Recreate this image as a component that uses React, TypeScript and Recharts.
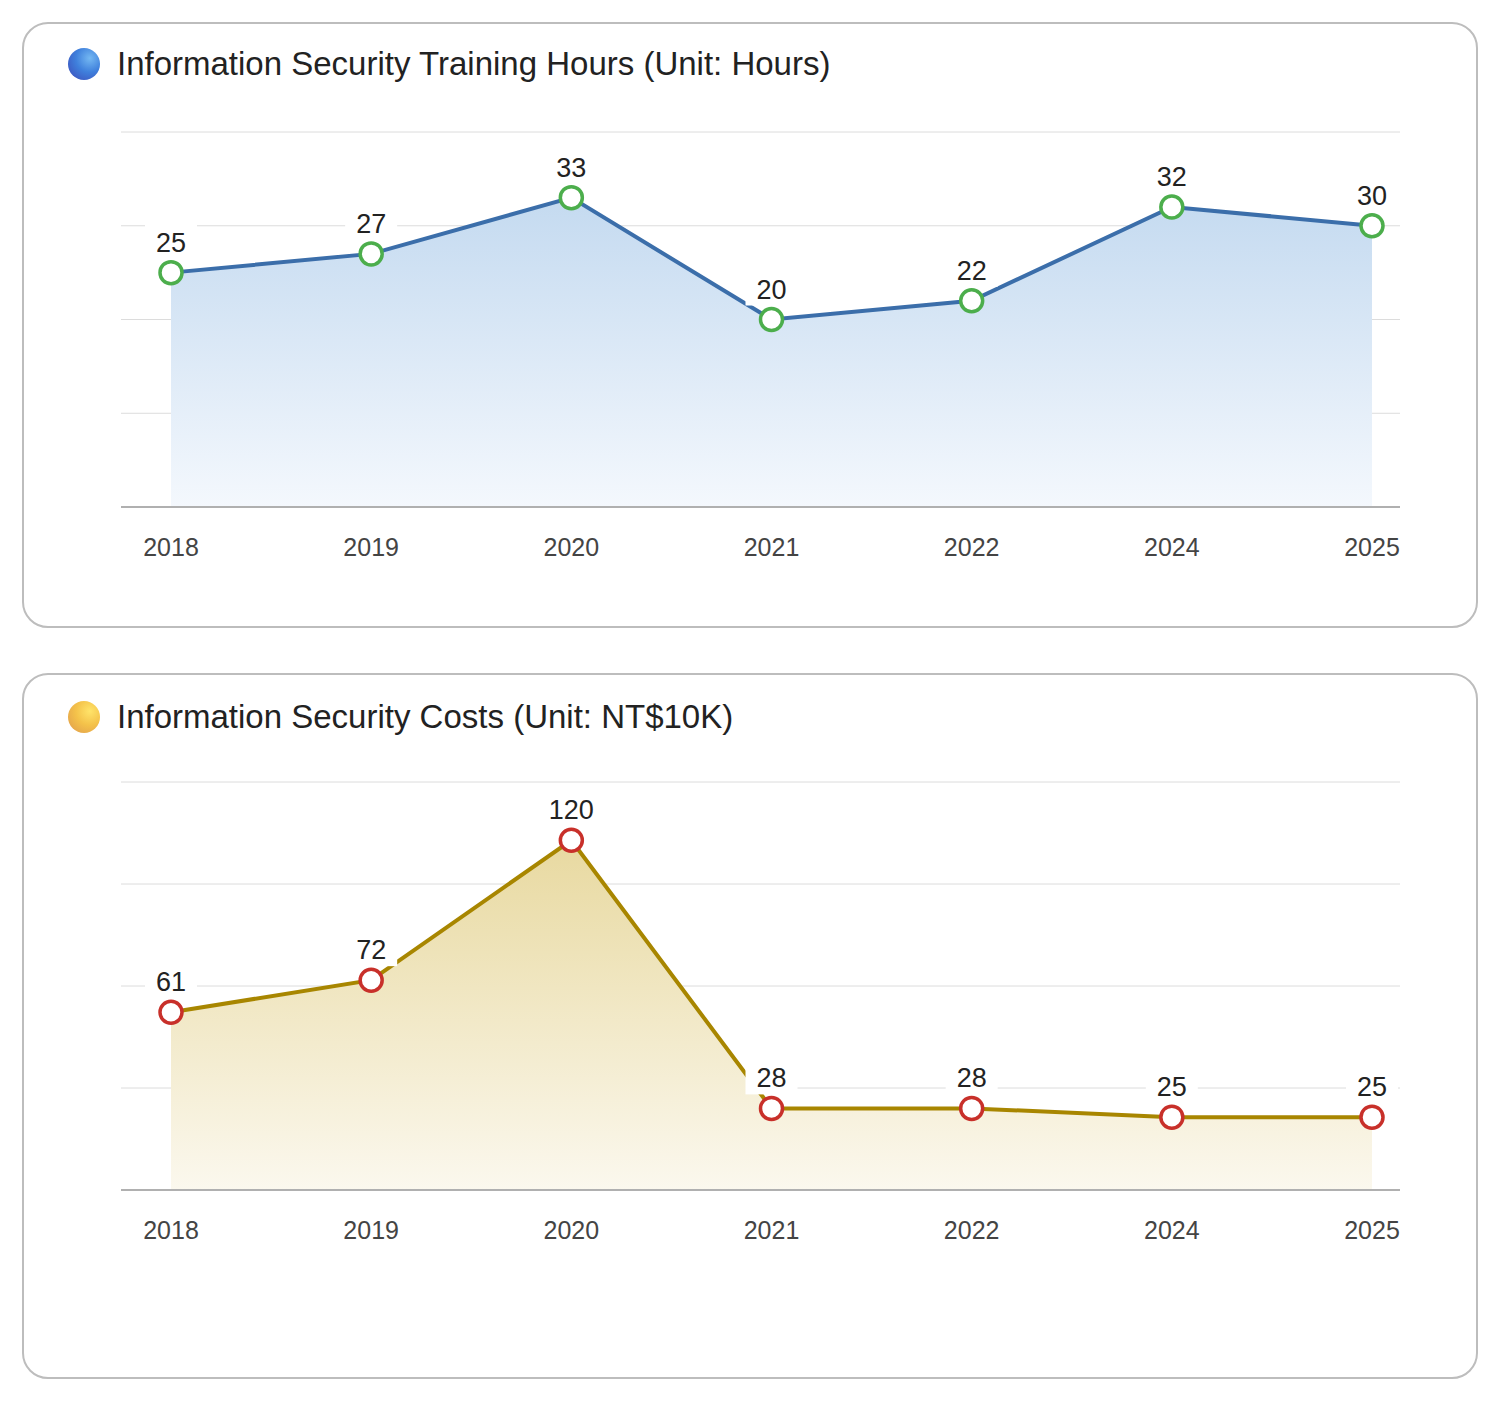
import React from "react";
import {
  AreaChart,
  Area,
  Line,
  XAxis,
  YAxis,
  CartesianGrid,
  LabelList,
} from "recharts";

const years = ["2018", "2019", "2020", "2021", "2022", "2024", "2025"];
const trainingHours = [25, 27, 33, 20, 22, 32, 30];
const securityCosts = [61, 72, 120, 28, 28, 25, 25];
const hoursTicks = [0, 10, 20, 30, 40];
const costTicks = [0, 35, 70, 105, 140];

const FONT = '"Liberation Sans", Arial, Helvetica, sans-serif';

const hoursData = years.map((y, i) => ({ year: y, value: trainingHours[i] }));
const costData = years.map((y, i) => ({ year: y, value: securityCosts[i] }));

function ValueLabel(props: any) {
  const { x, y, value } = props;
  if (x == null || y == null) return null;
  return (
    <g>
      <rect x={x - 26} y={y - 51} width={52} height={37} fill="#fff" />
      <text
        x={x}
        y={y - 21}
        textAnchor="middle"
        fontSize={27}
        fontFamily={FONT}
        fill="#222"
      >
        {value}
      </text>
    </g>
  );
}

function makeDot(color: string) {
  return (p: any) => (
    <circle
      key={p.index}
      cx={p.cx}
      cy={p.cy}
      r={11}
      fill="#fff"
      stroke={color}
      strokeWidth={3.5}
    />
  );
}

interface PanelProps {
  id: string;
  data: Array<{ year: string; value: number }>;
  ticks: number[];
  height: number;
  marginBottom: number;
  line: string;
  fillTop: string;
  fillBottom: string;
  dot: string;
}

function Panel({ id, data, ticks, height, marginBottom, line, fillTop, fillBottom, dot }: PanelProps) {
  return (
    <AreaChart
      width={1484}
      height={height}
      data={data}
      margin={{ top: 24, right: 92, bottom: marginBottom, left: 113 }}
    >
      <defs>
        <linearGradient id={id} x1="0" y1="0" x2="0" y2="1">
          <stop offset="0%" stopColor={fillTop} />
          <stop offset="100%" stopColor={fillBottom} />
        </linearGradient>
      </defs>
      <CartesianGrid vertical={false} stroke="#dcdcdc" strokeWidth={1} />
      <XAxis
        dataKey="year"
        padding={{ left: 50, right: 28 }}
        axisLine={{ stroke: "#b0b0b0", strokeWidth: 2 }}
        tickLine={false}
        tickMargin={25}
        tick={{ fill: "#444", fontSize: 25, fontFamily: FONT }}
        interval={0}
      />
      <YAxis hide domain={[ticks[0], ticks[ticks.length - 1]]} ticks={ticks} />
      <Area
        type="linear"
        dataKey="value"
        stroke={line}
        strokeWidth={4}
        fill={`url(#${id})`}
        fillOpacity={1}
        dot={false}
        activeDot={false}
        isAnimationActive={false}
      >
        <LabelList dataKey="value" content={<ValueLabel />} />
      </Area>
      <Line
        type="linear"
        dataKey="value"
        stroke="none"
        dot={makeDot(dot)}
        activeDot={false}
        isAnimationActive={false}
        legendType="none"
      />
    </AreaChart>
  );
}

const cardStyle: React.CSSProperties = {
  position: "absolute",
  left: 14,
  width: 1456,
  boxSizing: "border-box",
  border: "2px solid #bdbdbd",
  borderRadius: 26,
  background: "#fff",
};

function Title({ top, text, ball }: { top: number; text: string; ball: string }) {
  return (
    <div
      style={{
        position: "absolute",
        left: 60,
        top: top - 20,
        height: 40,
        display: "flex",
        alignItems: "center",
      }}
    >
      <div
        style={{
          width: 32,
          height: 32,
          borderRadius: "50%",
          background: ball,
          marginRight: 17,
        }}
      />
      <span style={{ fontFamily: FONT, fontSize: 33, color: "#222", whiteSpace: "nowrap" }}>
        {text}
      </span>
    </div>
  );
}

export default function App() {
  return (
    <div style={{ position: "relative", width: 1484, height: 1396, background: "#fff" }}>
      <div style={{ ...cardStyle, top: 14, height: 606 }} />
      <div style={{ ...cardStyle, top: 665, height: 706 }} />

      <Title
        top={56}
        text="Information Security Training Hours (Unit: Hours)"
        ball="radial-gradient(circle at 68% 32%, #74b8f2 0%, #3f80dc 45%, #3d5cc4 80%, #5a4fb0 100%)"
      />
      <Title
        top={709}
        text="Information Security Costs (Unit: NT$10K)"
        ball="radial-gradient(circle at 68% 32%, #ffe46a 0%, #f4c24a 45%, #e6a84c 80%, #d88a6a 100%)"
      />

      <div style={{ position: "absolute", left: 0, top: 100 }}>
        <Panel
          id="hoursFill"
          data={hoursData}
          ticks={hoursTicks}
          height={480}
          marginBottom={51}
          line="#3b6eaa"
          fillTop="#c4daf0"
          fillBottom="#f4f8fd"
          dot="#4cae4c"
        />
      </div>
      <div style={{ position: "absolute", left: 0, top: 750 }}>
        <Panel
          id="costFill"
          data={costData}
          ticks={costTicks}
          height={500}
          marginBottom={38}
          line="#a88600"
          fillTop="#e8d9a0"
          fillBottom="#fbf8ee"
          dot="#c8302a"
        />
      </div>
    </div>
  );
}
